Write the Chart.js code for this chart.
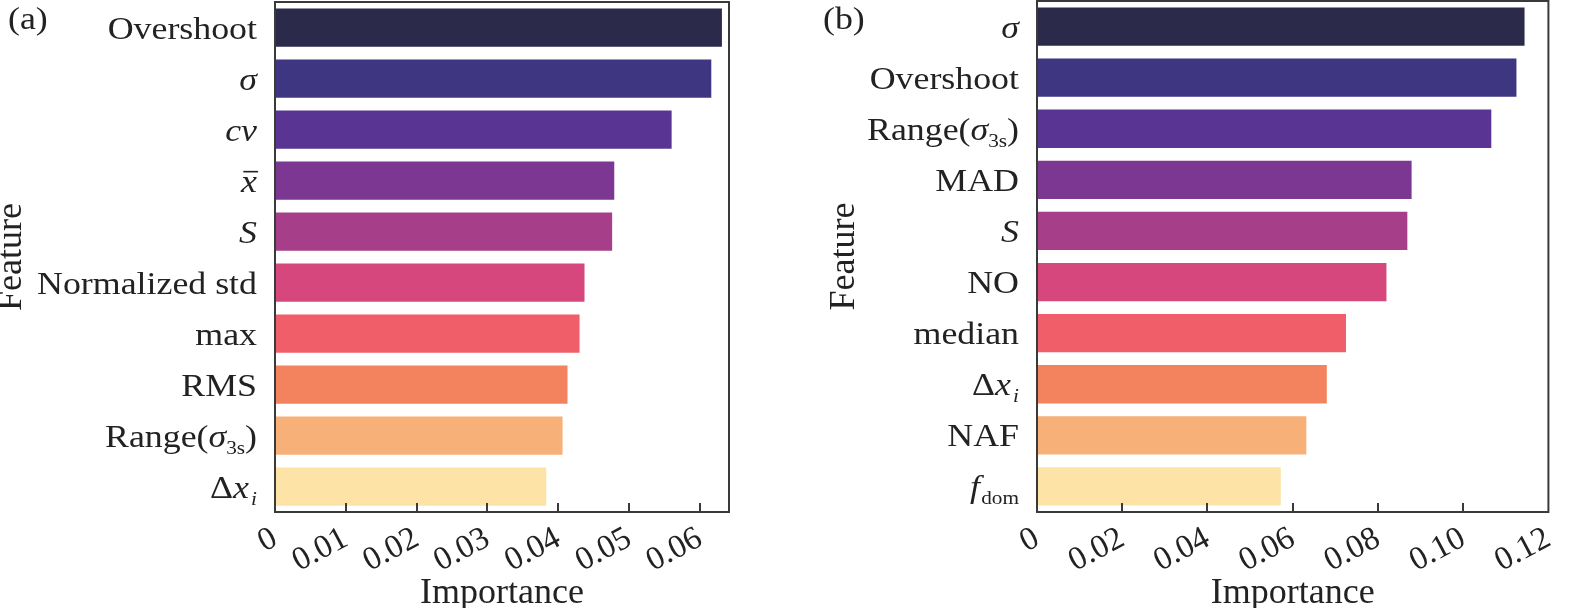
<!DOCTYPE html>
<html>
<head>
<meta charset="utf-8">
<script src="https://cdn.jsdelivr.net/npm/chart.js@4.4.1/dist/chart.umd.min.js"></script>
<style>
  html, body { margin: 0; padding: 0; background: #ffffff; }
  body { width: 1574px; height: 608px; position: relative; overflow: hidden; }
  .panel { position: absolute; top: 0; height: 608px; }
  #pa { left: 0; width: 790px; }
  #pb { left: 790px; width: 784px; }
</style>
</head>
<body>
<div class="panel" id="pa"><canvas id="ca"></canvas></div>
<div class="panel" id="pb"><canvas id="cb"></canvas></div>
<script>
// ---------- data ----------
const featuresA = ['Overshoot', 'σ', 'cv', 'x̄', 'S', 'Normalized std', 'max', 'RMS', 'Range(σ3s)', 'Δxi'];
const importanceA = [0.0631, 0.0616, 0.0560, 0.0479, 0.0476, 0.0437, 0.0430, 0.0413, 0.0406, 0.0383];
const featuresB = ['σ', 'Overshoot', 'Range(σ3s)', 'MAD', 'S', 'NO', 'median', 'Δxi', 'NAF', 'fdom'];
const importanceB = [0.1144, 0.1125, 0.1066, 0.0879, 0.0869, 0.0820, 0.0725, 0.0680, 0.0632, 0.0572];
const axisMaxA = 0.0641, stepA = 0.01;
const axisMaxB = 0.12, stepB = 0.02;
const panelLabels = ['(a)', '(b)'];
const axisTitleX = 'Importance';
const axisTitleY = 'Feature';

// ---------- styles ----------
const palette = ['#2b2a4a', '#3e3680', '#5a3493', '#7b3791', '#a63e8a', '#d6477d', '#ef5e69', '#f3825e', '#f7b078', '#fde4a6'];
const SERIF = '"Liberation Serif", "Times New Roman", Times, serif';
const TEXT = '#222222';
const FRAME = '#3a3a3a';

// rich rendering of the feature names (italics, subscripts, overline)
const rich = {
  'Overshoot': [{t: 'Overshoot'}],
  'σ': [{t: 'σ', it: true}],
  'cv': [{t: 'cv', it: true}],
  'x̄': [{t: 'x', it: true, bar: true}],
  'S': [{t: 'S', it: true}],
  'Normalized std': [{t: 'Normalized std'}],
  'max': [{t: 'max'}],
  'RMS': [{t: 'RMS'}],
  'Range(σ3s)': [{t: 'Range('}, {t: 'σ', it: true}, {t: '3s', sub: true}, {t: ')'}],
  'Δxi': [{t: 'Δ'}, {t: 'x', it: true}, {t: 'i', it: true, sub: true, pre: 2}],
  'MAD': [{t: 'MAD'}],
  'NO': [{t: 'NO'}],
  'median': [{t: 'median'}],
  'NAF': [{t: 'NAF'}],
  'fdom': [{t: 'f', it: true}, {t: 'dom', sub: true, pre: 1}]
};

function drawRich(ctx, segs, xRight, yBase, size, hs) {
  const parts = segs.map(s => {
    const fs = s.sub ? Math.round(size * 0.6) : size;
    const f = (s.it ? 'italic ' : '') + fs + 'px ' + SERIF;
    ctx.font = f;
    return {s, f, w: ctx.measureText(s.t).width + (s.pre || 0)};
  });
  const total = parts.reduce((a, p) => a + p.w, 0);
  ctx.save();
  ctx.translate(xRight, yBase);
  ctx.scale(hs, 1);
  ctx.fillStyle = TEXT;
  ctx.strokeStyle = TEXT;
  ctx.textAlign = 'left';
  ctx.textBaseline = 'alphabetic';
  let x = -total;
  for (const p of parts) {
    ctx.font = p.f;
    const dy = p.s.sub ? size * 0.22 : 0;
    ctx.fillText(p.s.t, x + (p.s.pre || 0), dy);
    if (p.s.bar) {
      ctx.lineWidth = 1.6;
      ctx.beginPath();
      ctx.moveTo(x + 2, -size * 0.62);
      ctx.lineTo(x + p.w + 1, -size * 0.62);
      ctx.stroke();
    }
    x += p.w;
  }
  ctx.restore();
}

const decor = {
  id: 'decor',
  afterDraw(chart, args, opts) {
    const {ctx, chartArea: a, scales} = chart;
    const xs = scales.x, ys = scales.y;
    ctx.save();
    // inward tick marks on the bottom axis
    ctx.strokeStyle = FRAME;
    ctx.lineWidth = 2;
    xs.ticks.forEach(t => {
      if (t.value <= xs.min + 1e-9 || t.value >= xs.max - 1e-9) return;
      const px = Math.round(xs.getPixelForValue(t.value));
      ctx.beginPath();
      ctx.moveTo(px, a.bottom);
      ctx.lineTo(px, a.bottom - 9);
      ctx.stroke();
    });
    // frame
    ctx.strokeRect(a.left, a.top, a.right - a.left, a.bottom - a.top);
    // feature names
    ys.getLabels().forEach((lab, i) => {
      const py = ys.getPixelForValue(i);
      drawRich(ctx, rich[lab] || [{t: lab}], a.left - 18, py + 11, 32, 1.12);
    });
    // panel letter
    ctx.save();
    ctx.translate(opts.px, 29);
    ctx.scale(1.12, 1);
    ctx.font = '32px ' + SERIF;
    ctx.fillStyle = TEXT;
    ctx.textBaseline = 'alphabetic';
    ctx.fillText(opts.label, 0, 0);
    ctx.restore();
    ctx.restore();
  }
};

function makeChart(id, labels, values, max, step, pad, yWidth, panel, px) {
  return new Chart(document.getElementById(id), {
    type: 'bar',
    data: {
      labels: labels,
      datasets: [{
        data: values,
        backgroundColor: palette,
        borderWidth: 0,
        categoryPercentage: 1.0,
        barPercentage: 0.75
      }]
    },
    options: {
      indexAxis: 'y',
      responsive: true,
      maintainAspectRatio: false,
      animation: false,
      layout: {padding: pad},
      plugins: {
        legend: {display: false},
        tooltip: {enabled: false},
        decor: {label: panel, px: px}
      },
      scales: {
        x: {
          type: 'linear',
          min: 0,
          max: max,
          grid: {display: false, drawTicks: false},
          border: {display: false},
          afterFit(s) { s.height = 96; },
          ticks: {
            stepSize: step,
            includeBounds: false,
            autoSkip: false,
            minRotation: 28,
            maxRotation: 28,
            padding: 7,
            color: TEXT,
            font: {family: SERIF, size: 33},
            callback: v => (Math.abs(v) < 1e-12 ? '0' : Number(v).toFixed(2))
          },
          title: {
            display: true,
            text: axisTitleX,
            color: TEXT,
            font: {family: SERIF, size: 36, lineHeight: 1.2},
            padding: {top: 0, bottom: -7}
          }
        },
        y: {
          type: 'category',
          grid: {display: false, drawTicks: false},
          border: {display: false},
          ticks: {display: false},
          afterFit(s) { s.width = yWidth; },
          title: {
            display: true,
            text: axisTitleY,
            color: TEXT,
            font: {family: SERIF, size: 36, lineHeight: 1},
            padding: {top: -6, bottom: 0}
          }
        }
      }
    },
    plugins: [decor]
  });
}

makeChart('ca', featuresA, importanceA, axisMaxA, stepA, {left: 0, right: 61, top: 2, bottom: 0}, 275, panelLabels[0], 8);
makeChart('cb', featuresB, importanceB, axisMaxB, stepB, {left: 43, right: 15, top: 1, bottom: 0}, 204, panelLabels[1], 33);
</script>
</body>
</html>
